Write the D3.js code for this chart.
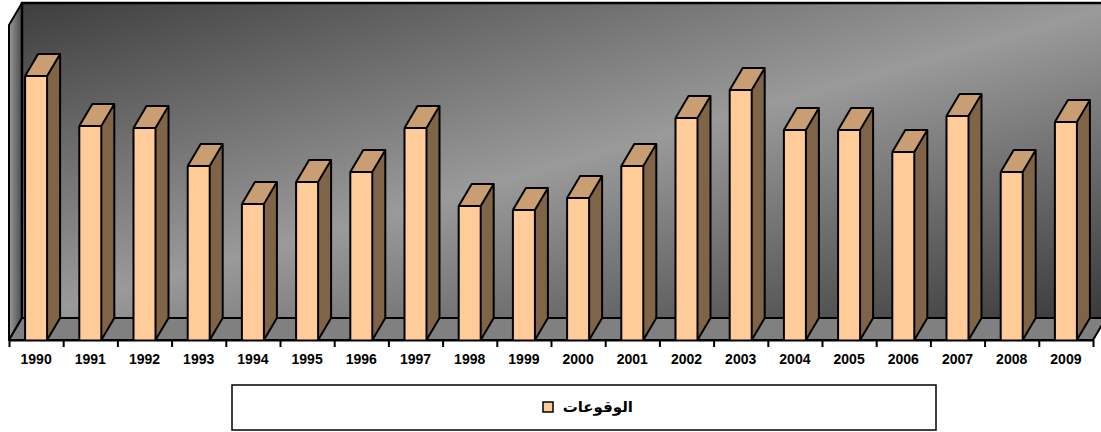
<!DOCTYPE html>
<html>
<head>
<meta charset="utf-8">
<script src="https://cdn.jsdelivr.net/npm/d3@7"></script>
<style>
  html, body { margin: 0; padding: 0; background: #ffffff; }
  svg { display: block; }
  .year-label { font-family: "Liberation Sans", Arial, sans-serif; font-weight: bold; font-size: 14px; }
  .legend-label { font-family: "DejaVu Sans", sans-serif; font-weight: bold; font-size: 15px; }
</style>
</head>
<body>
<div id="chart-container"></div>
<script>
// Data (no value axis is shown, units are estimates)
const years = ['1990', '1991', '1992', '1993', '1994', '1995', '1996', '1997', '1998', '1999',
               '2000', '2001', '2002', '2003', '2004', '2005', '2006', '2007', '2008', '2009']
const occurrences = [132, 107, 106, 87, 68, 79, 84, 106, 67, 65,
                     71, 87, 111, 125, 105, 105, 94, 112, 84, 109]
const seriesName = 'الوقوعات'

const width = 1101
const height = 432

// Chart geometry
const floorY = 340
const left = 9
const right = 1093
const depthX = 13
const depthY = -22
const wallTop = 25

// Colours
const frontColor = '#FFCC99'
const topColor = '#C89E72'
const sideColor = '#806448'
const floorColor = '#808080'

const data = years.map((y, i) => ({ year: y, value: occurrences[i] }))

const svg = d3.select('#chart-container')
    .append('svg')
    .attr('width', width)
    .attr('height', height)

const defs = svg.append('defs')
const wallGrad = defs.append('linearGradient')
    .attr('id', 'wall-grad')
    .attr('x1', 0).attr('y1', 0).attr('x2', 1).attr('y2', 1)
wallGrad.append('stop').attr('offset', 0).attr('stop-color', '#3e3e3e')
wallGrad.append('stop').attr('offset', 0.5).attr('stop-color', '#9a9a9a')
wallGrad.append('stop').attr('offset', 1).attr('stop-color', '#383838')

const sideGrad = defs.append('linearGradient')
    .attr('id', 'side-grad')
    .attr('x1', 0).attr('y1', 0).attr('x2', 1).attr('y2', 0)
sideGrad.append('stop').attr('offset', 0).attr('stop-color', '#9a9a9a')
sideGrad.append('stop').attr('offset', 1).attr('stop-color', '#4a4a4a')

// Scales
const xScale = d3.scaleBand()
    .domain(years)
    .range([left, right])
    .paddingInner(0.594)
    .paddingOuter(0.297)

const labelScale = d3.scaleBand()
    .domain(years)
    .range([left, right])
    .padding(0)

const tickScale = d3.scaleLinear()
    .domain([0, years.length])
    .range([left, right])

const yScale = d3.scaleLinear()
    .domain([0, 150])
    .range([floorY, 40])

const pts = p => p.map(d => d.join(',')).join(' ')

// Walls
const backLeft = left + depthX
const backBottom = floorY + depthY
const backTop = wallTop + depthY

svg.append('rect')
    .attr('x', backLeft)
    .attr('y', backTop)
    .attr('width', right + depthX - backLeft + 20)
    .attr('height', backBottom - backTop)
    .attr('fill', 'url(#wall-grad)')

svg.append('polygon')
    .attr('points', pts([[left, wallTop], [backLeft, backTop], [backLeft, backBottom], [left, floorY]]))
    .attr('fill', 'url(#side-grad)')
    .attr('stroke', 'black')
    .attr('stroke-width', 2)
    .attr('stroke-linejoin', 'round')

svg.append('polyline')
    .attr('points', pts([[backLeft, backBottom], [backLeft, backTop], [width + 5, backTop]]))
    .attr('fill', 'none')
    .attr('stroke', 'black')
    .attr('stroke-width', 2.5)

// Floor
svg.append('polygon')
    .attr('points', pts([[left, floorY], [backLeft, backBottom], [right + depthX, backBottom], [right, floorY]]))
    .attr('fill', floorColor)
    .attr('stroke', 'black')
    .attr('stroke-width', 2)
    .attr('stroke-linejoin', 'round')

// Bars
const bars = svg.selectAll('.bar')
    .data(data)
    .enter()
    .append('g')
    .attr('class', 'bar')

const bw = xScale.bandwidth()

bars.append('polygon')
    .attr('points', d => {
        const x = xScale(d.year) + bw
        const y = yScale(d.value)
        return pts([[x, y], [x + depthX, y + depthY], [x + depthX, floorY + depthY], [x, floorY]])
    })
    .attr('fill', sideColor)

bars.append('polygon')
    .attr('points', d => {
        const x = xScale(d.year)
        const y = yScale(d.value)
        return pts([[x, y], [x + depthX, y + depthY], [x + bw + depthX, y + depthY], [x + bw, y]])
    })
    .attr('fill', topColor)

bars.append('rect')
    .attr('x', d => xScale(d.year))
    .attr('y', d => yScale(d.value))
    .attr('width', bw)
    .attr('height', d => floorY - yScale(d.value))
    .attr('fill', frontColor)

// Outlines on top
bars.append('path')
    .attr('d', d => {
        const x = xScale(d.year)
        const y = yScale(d.value)
        return 'M' + x + ',' + floorY + 'V' + y + 'H' + (x + bw) + 'V' + floorY +
            'M' + x + ',' + y + 'L' + (x + depthX) + ',' + (y + depthY) +
            'H' + (x + bw + depthX) + 'L' + (x + bw) + ',' + y +
            'M' + (x + bw + depthX) + ',' + (y + depthY) + 'V' + (floorY + depthY) +
            'L' + (x + bw) + ',' + floorY
    })
    .attr('fill', 'none')
    .attr('stroke', 'black')
    .attr('stroke-width', 2)
    .attr('stroke-linejoin', 'round')

// Category axis: ticks on band edges, labels at band centres
const tickAxis = d3.axisBottom(tickScale)
    .tickValues(d3.range(0, years.length + 1))
    .tickFormat('')
    .tickSize(7)
    .tickSizeOuter(0)

svg.append('g')
    .attr('id', 'x-ticks')
    .attr('transform', 'translate(0,' + floorY + ')')
    .call(tickAxis)
    .call(g => g.select('.domain').attr('stroke', 'black').attr('stroke-width', 2))
    .call(g => g.selectAll('.tick line').attr('stroke', 'black').attr('stroke-width', 2))

const labelAxis = d3.axisBottom(labelScale)
    .tickSize(0)
    .tickPadding(14)

svg.append('g')
    .attr('id', 'x-axis')
    .attr('transform', 'translate(0,' + floorY + ')')
    .call(labelAxis)
    .call(g => g.select('.domain').remove())
    .call(g => g.selectAll('text')
        .attr('class', 'year-label')
        .attr('fill', 'black')
        .attr('font-family', null)
        .attr('font-size', null))

// Legend
const legend = svg.append('g').attr('id', 'legend')
legend.append('rect')
    .attr('x', 232)
    .attr('y', 385)
    .attr('width', 704)
    .attr('height', 45)
    .attr('fill', 'white')
    .attr('stroke', 'black')
    .attr('stroke-width', 1.5)

legend.append('rect')
    .attr('x', 543)
    .attr('y', 402)
    .attr('width', 10)
    .attr('height', 10)
    .attr('fill', frontColor)
    .attr('stroke', 'black')
    .attr('stroke-width', 1.5)

legend.append('text')
    .attr('class', 'legend-label')
    .attr('x', 633)
    .attr('y', 407)
    .attr('dy', '0.35em')
    .attr('text-anchor', 'end')
    .text(seriesName)
</script>
</body>
</html>
